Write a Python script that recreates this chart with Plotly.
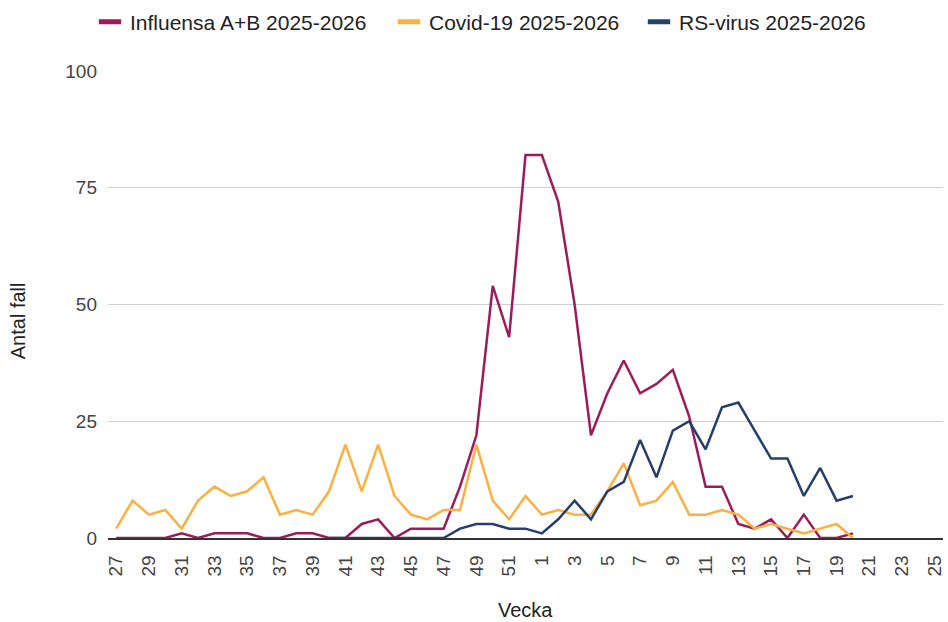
import plotly.graph_objects as go

# Week categories (season 2025-2026)
weeks = ["27", "28", "29", "30", "31", "32", "33", "34", "35", "36", "37", "38", "39",
         "40", "41", "42", "43", "44", "45", "46", "47", "48", "49", "50", "51", "52",
         "1", "2", "3", "4", "5", "6", "7", "8", "9", "10", "11", "12", "13", "14",
         "15", "16", "17", "18", "19", "20", "21", "22", "23", "24", "25"]

influensa = [0, 0, 0, 0, 1, 0, 1, 1, 1, 0, 0, 1, 1,
             0, 0, 3, 4, 0, 2, 2, 2, 11, 22, 54, 43, 82,
             82, 72, 50, 22, 31, 38, 31, 33, 36, 26, 11, 11, 3, 2,
             4, 0, 5, 0, 0, 1, None, None, None, None, None]

covid = [2, 8, 5, 6, 2, 8, 11, 9, 10, 13, 5, 6, 5,
         10, 20, 10, 20, 9, 5, 4, 6, 6, 20, 8, 4, 9,
         5, 6, 5, 5, 10, 16, 7, 8, 12, 5, 5, 6, 5, 2,
         3, 2, 1, 2, 3, 0, None, None, None, None, None]

rsv = [None, None, None, None, None, None, None, None, None, None, None, None, None,
       0, 0, 0, 0, 0, 0, 0, 0, 2, 3, 3, 2, 2,
       1, 4, 8, 4, 10, 12, 21, 13, 23, 25, 19, 28, 29, 23,
       17, 17, 9, 15, 8, 9, None, None, None, None, None]

series_names = ["Influensa A+B 2025-2026", "Covid-19 2025-2026", "RS-virus 2025-2026"]
colors = ["#9c1c5b", "#fbb041", "#243f6b"]
y_ticks = [0, 25, 50, 75, 100]
x_ticks = weeks[::2]

FONT = "Liberation Sans, Arial, sans-serif"
W, H = 948, 622

fig = go.Figure()
for name, vals, col in zip(series_names, [influensa, covid, rsv], colors):
    fig.add_trace(go.Scatter(x=weeks, y=vals, mode="lines", name=name,
                             line=dict(color=col, width=2.5),
                             connectgaps=False, showlegend=False))

# legend-only entries (filled rectangles as in the original), one legend each
legend_ids = ["legend", "legend2", "legend3"]
legend_left_px = [90, 389, 639]
for name, col, lid in zip(series_names, colors, legend_ids):
    fig.add_trace(go.Scatter(x=[None], y=[None], mode="markers", name=name,
                             marker=dict(symbol="line-ew", size=16,
                                         line=dict(color=col, width=5)),
                             showlegend=True, legend=lid))

legend_common = dict(orientation="h", xref="container", yref="container",
                     xanchor="left", y=1 - 22 / H, yanchor="middle",
                     font=dict(size=21, color="#222"), itemwidth=30,
                     bgcolor="rgba(0,0,0,0)")

fig.update_layout(
    width=W, height=H,
    margin=dict(l=108, r=3, t=71, b=84),
    paper_bgcolor="white", plot_bgcolor="white",
    font=dict(family=FONT, size=19, color="#222"),
    legend=dict(x=legend_left_px[0] / W, **legend_common),
    legend2=dict(x=legend_left_px[1] / W, **legend_common),
    legend3=dict(x=legend_left_px[2] / W, **legend_common),
    showlegend=True,
    xaxis=dict(type="category", categoryorder="array", categoryarray=weeks,
               range=[-0.5, len(weeks) - 0.5],
               tickmode="array", tickvals=x_ticks, ticktext=x_ticks,
               tickangle=-90, tickfont=dict(size=19, color="#444"),
               showgrid=False, showline=True, linecolor="#333", linewidth=1.5,
               ticks="", ticklabelstandoff=8, zeroline=False),
    yaxis=dict(range=[0, 100], tickvals=y_ticks, tickfont=dict(size=19, color="#444"),
               showgrid=True, gridcolor="#d0d0d0", gridwidth=1,
               showline=False, zeroline=False, ticks="", ticklabelstandoff=10),
    annotations=[
        dict(text="Vecka", xref="paper", yref="paper", x=0.5, y=-72 / 467,
             xanchor="center", yanchor="middle", showarrow=False,
             font=dict(size=20, color="#222")),
        dict(text="Antal fall", xref="paper", yref="paper", x=-90 / 837,
             y=217 / 467, xanchor="center", yanchor="middle", textangle=-90,
             showarrow=False, font=dict(size=20, color="#222")),
    ],
)

fig.write_html("out.html",
               config={"displayModeBar": False},
               post_script="document.body.style.margin='0px';document.body.style.padding='0px';")
